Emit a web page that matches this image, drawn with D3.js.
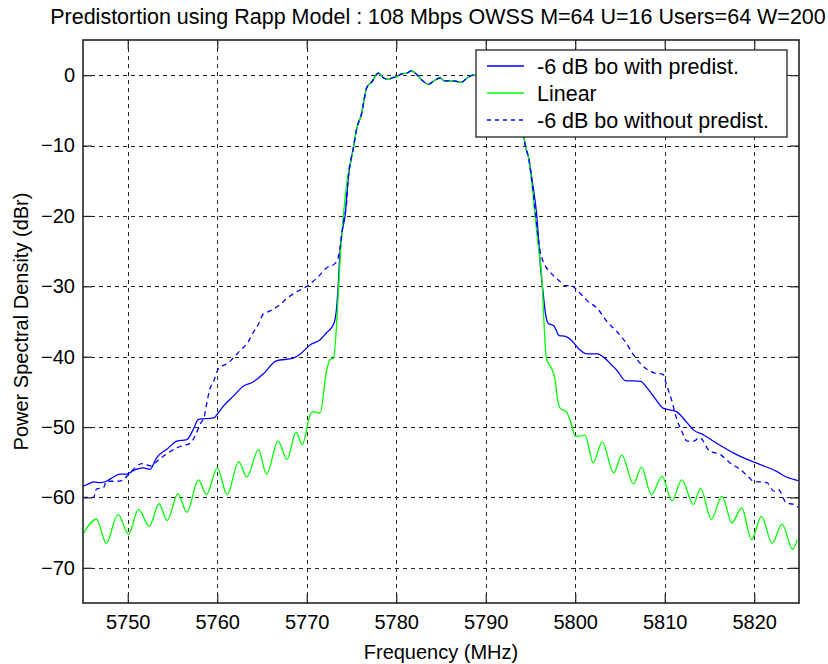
<!DOCTYPE html>
<html>
<head>
<meta charset="utf-8">
<script src="https://cdn.jsdelivr.net/npm/d3@7"></script>
<style>
  html, body { margin: 0; padding: 0; background: #fff; }
  text { font-family: Arial, "Liberation Sans", sans-serif; fill: #000; }
</style>
</head>
<body>
<svg id="chart" width="828" height="664"></svg>
<script>
// ---------------- data ----------------
const titleText = "Predistortion using Rapp Model : 108 Mbps OWSS M=64 U=16 Users=64 W=200";
const xLabel = "Frequency (MHz)";
const yLabel = "Power Spectral Density (dBr)";
const xTicks = [5750, 5760, 5770, 5780, 5790, 5800, 5810, 5820];
const yTicks = [0, -10, -20, -30, -40, -50, -60, -70];
const xDomain = [5745, 5825];
const yDomain = [-75, 5];
const seriesNames = ["-6 dB bo with predist.", "Linear", "-6 dB bo without predist."];

// shared pass band (all three curves coincide here)
const passband = [
  [5775.2,-10.4],[5775.6,-7.5],[5776.1,-5.6],[5776.7,-1.8],[5777.3,-0.9],[5778.0,0.3],
  [5778.6,-0.4],[5779.1,-0.6],[5779.5,-0.4],[5780.1,-0.2],[5780.6,0.2],[5781.2,0.3],
  [5781.7,0.6],[5782.3,0.1],[5782.8,-0.6],[5783.6,-1.3],[5784.1,-0.9],[5784.9,-0.4],
  [5785.4,-0.8],[5786.4,-0.8],[5787.3,-1.0],[5787.9,-0.4],[5788.6,0.0],[5789.5,-0.3],
  [5790.5,-0.2],[5791.5,-0.6],[5792.5,-0.4],[5793.3,-1.5],[5793.8,-4.0],[5794.1,-7.0],
  [5794.4,-9.9],[5794.8,-11.8]
];

const linearLeft = [
  [5745.0,-65.2],[5746.5,-63.1],[5747.6,-66.5],[5748.9,-62.4],[5750.1,-65.2],[5751.2,-61.7],
  [5752.4,-64.1],[5753.5,-60.9],[5754.4,-63.3],[5755.6,-59.5],[5756.6,-62.1],[5757.9,-57.5],
  [5758.8,-59.6],[5760.0,-55.8],[5761.1,-59.6],[5762.4,-54.9],[5763.3,-57.1],[5764.6,-53.2],
  [5765.5,-56.7],[5766.8,-52.0],[5767.8,-54.6],[5768.8,-50.7],[5769.5,-52.5],[5770.4,-48.2],
  [5770.7,-47.8],[5771.5,-48.0],[5772.2,-42.1],[5772.6,-40.4],[5773.0,-40.2],[5773.4,-34.0],
  [5773.7,-26.9],[5774.1,-19.8],[5774.5,-15.1]
];
const linearRight = [
  [5795.1,-14.8],[5795.5,-19.9],[5795.9,-24.6],[5796.3,-29.4],[5796.5,-35.1],[5796.8,-40.4],
  [5797.4,-41.8],[5797.8,-43.6],[5797.9,-44.9],[5798.3,-47.3],[5799.0,-47.8],[5799.6,-49.7],
  [5800.0,-51.3],[5800.5,-51.3],[5801.1,-51.1],[5802.0,-55.1],[5803.0,-52.1],[5804.3,-56.5],
  [5805.2,-54.0],[5806.5,-58.1],[5807.4,-55.7],[5808.5,-59.6],[5809.7,-57.0],[5810.8,-60.5],
  [5811.9,-57.5],[5813.2,-61.0],[5814.0,-58.7],[5815.2,-63.1],[5816.4,-59.8],[5817.5,-63.6],
  [5818.6,-61.5],[5819.7,-66.0],[5820.8,-62.7],[5822.0,-66.5],[5823.1,-63.8],[5824.3,-67.4],
  [5824.8,-66.0]
];

const predistLeft = [
  [5745.0,-58.4],[5745.4,-58.2],[5746.2,-57.8],[5746.9,-57.9],[5747.6,-57.7],[5748.4,-57.1],
  [5749.1,-56.7],[5749.9,-56.7],[5750.6,-56.2],[5751.7,-55.8],[5752.5,-56.0],[5753.2,-54.4],
  [5754.4,-53.1],[5755.5,-52.0],[5756.6,-51.8],[5757.3,-50.4],[5757.9,-48.9],[5759.6,-48.7],
  [5760.1,-48.0],[5760.7,-47.0],[5761.8,-45.6],[5762.9,-44.2],[5764.0,-43.6],[5765.1,-42.5],
  [5766.6,-40.6],[5768.5,-40.2],[5769.2,-39.7],[5770.4,-38.3],[5771.5,-37.6],[5772.2,-36.6],
  [5773.0,-35.4],[5773.3,-33.5],[5773.5,-30.2],[5773.7,-25.5],[5773.9,-22.7],[5774.3,-19.8],
  [5774.6,-15.1]
];
const predistRight = [
  [5795.2,-15.1],[5795.7,-19.9],[5796.1,-27.0],[5796.4,-30.8],[5796.7,-34.1],[5797.0,-35.3],
  [5797.6,-35.6],[5798.2,-37.0],[5798.9,-37.1],[5799.6,-37.7],[5800.4,-38.9],[5801.3,-39.6],
  [5802.5,-39.6],[5803.2,-40.1],[5804.0,-41.1],[5804.7,-42.0],[5805.6,-43.4],[5807.3,-43.5],
  [5808.0,-44.4],[5808.9,-45.9],[5809.8,-47.3],[5811.3,-47.8],[5812.5,-49.4],[5813.2,-50.4],
  [5814.3,-51.1],[5815.8,-52.3],[5817.7,-53.7],[5819.2,-54.6],[5820.6,-55.3],[5822.5,-56.3],
  [5823.6,-57.1],[5824.9,-57.6]
];

const noPredistLeft = [
  [5745.0,-60.0],[5746.2,-60.0],[5746.5,-58.8],[5747.3,-58.6],[5747.6,-57.7],[5748.8,-57.7],
  [5749.5,-57.5],[5750.1,-56.7],[5751.6,-55.2],[5752.5,-55.5],[5753.6,-54.5],[5754.7,-53.5],
  [5755.8,-52.8],[5757.0,-52.3],[5757.5,-51.3],[5758.1,-49.6],[5758.6,-48.2],[5758.8,-46.8],
  [5759.2,-44.5],[5759.6,-43.5],[5760.1,-41.8],[5761.2,-40.9],[5762.5,-39.2],[5763.5,-37.8],
  [5764.0,-36.6],[5764.6,-35.4],[5765.1,-34.0],[5765.9,-33.5],[5766.8,-32.8],[5767.8,-31.7],
  [5768.7,-30.9],[5770.0,-30.0],[5770.7,-29.3],[5771.3,-28.6],[5772.2,-27.4],[5773.2,-26.7],
  [5773.5,-26.0],[5773.7,-24.6],[5774.1,-20.8],[5774.5,-17.5],[5774.6,-15.1]
];
const noPredistRight = [
  [5795.2,-15.6],[5796.1,-25.1],[5796.7,-27.2],[5797.2,-28.0],[5798.2,-29.2],[5798.9,-29.9],
  [5799.5,-29.9],[5800.4,-30.8],[5801.3,-32.0],[5802.5,-33.2],[5803.6,-35.1],[5804.7,-36.5],
  [5805.6,-37.9],[5806.6,-39.9],[5807.7,-41.5],[5808.8,-42.3],[5809.8,-42.5],[5810.2,-44.0],
  [5810.8,-46.3],[5811.3,-48.7],[5811.9,-50.6],[5812.5,-52.0],[5813.2,-52.0],[5813.9,-51.5],
  [5815.0,-53.4],[5816.2,-53.9],[5817.3,-55.1],[5818.4,-56.0],[5819.3,-57.0],[5819.9,-57.7],
  [5821.4,-57.9],[5822.2,-59.1],[5822.7,-58.9],[5823.6,-60.8],[5824.4,-61.0],[5824.9,-61.4]
];

// ---------------- chart ----------------
const plot = { left: 83, right: 799, top: 40, bottom: 603 };
const svg = d3.select("#chart");
const x = d3.scaleLinear().domain(xDomain).range([plot.left, plot.right]);
const y = d3.scaleLinear().domain(yDomain).range([plot.bottom, plot.top]);

svg.append("rect").attr("x", plot.left).attr("y", plot.top)
  .attr("width", plot.right - plot.left).attr("height", plot.bottom - plot.top)
  .attr("fill", "#fff");

// grid
const grid = svg.append("g").attr("stroke", "#222").attr("stroke-width", 1)
  .attr("stroke-dasharray", "4,4").attr("shape-rendering", "crispEdges");
grid.selectAll(".gx").data(xTicks).join("line")
  .attr("x1", d => Math.round(x(d)) + 0.5).attr("x2", d => Math.round(x(d)) + 0.5)
  .attr("y1", plot.top).attr("y2", plot.bottom);
grid.selectAll(".gy").data(yTicks).join("line")
  .attr("y1", d => Math.round(y(d)) + 0.5).attr("y2", d => Math.round(y(d)) + 0.5)
  .attr("x1", plot.left).attr("x2", plot.right);

// curves
svg.append("clipPath").attr("id", "clip").append("rect")
  .attr("x", plot.left).attr("y", plot.top)
  .attr("width", plot.right - plot.left).attr("height", plot.bottom - plot.top);
const line = d3.line().curve(d3.curveMonotoneX).x(d => x(d[0])).y(d => y(d[1]));
const series = [
  { name: seriesNames[0], data: predistLeft.concat(passband, predistRight), color: "#0000ff", dash: null },
  { name: seriesNames[1], data: linearLeft.concat(passband, linearRight), color: "#00ff00", dash: null },
  { name: seriesNames[2], data: noPredistLeft.concat(passband, noPredistRight), color: "#0000ff", dash: "5,4" }
];
const curves = svg.append("g").attr("clip-path", "url(#clip)");
series.forEach(s => {
  curves.append("path").datum(s.data)
    .attr("fill", "none").attr("stroke", s.color).attr("stroke-width", 1.3)
    .attr("stroke-dasharray", s.dash).attr("d", line);
});

// axes (ticks inward, on all four sides)
const fmt = d3.format("d");
const axB = svg.append("g").attr("transform", `translate(0,${plot.bottom})`)
  .call(d3.axisBottom(x).tickValues(xTicks).tickFormat(fmt).tickSize(-9).tickPadding(12).tickSizeOuter(0));
const axL = svg.append("g").attr("transform", `translate(${plot.left},0)`)
  .call(d3.axisLeft(y).tickValues(yTicks).tickFormat(fmt).tickSize(-9).tickPadding(8).tickSizeOuter(0));
const axT = svg.append("g").attr("transform", `translate(0,${plot.top})`)
  .call(d3.axisTop(x).tickValues(xTicks).tickSize(-9).tickFormat("").tickSizeOuter(0));
const axR = svg.append("g").attr("transform", `translate(${plot.right},0)`)
  .call(d3.axisRight(y).tickValues(yTicks).tickSize(-9).tickFormat("").tickSizeOuter(0));
[axB, axL, axT, axR].forEach(g => {
  g.select(".domain").remove();
  g.selectAll(".tick line").attr("stroke", "#222").attr("stroke-width", 1.2);
  g.selectAll(".tick text").attr("font-size", 20).attr("font-family", "Arial, 'Liberation Sans', sans-serif").attr("fill", "#000");
});

// frame
svg.append("rect").attr("x", plot.left).attr("y", plot.top)
  .attr("width", plot.right - plot.left).attr("height", plot.bottom - plot.top)
  .attr("fill", "none").attr("stroke", "#222").attr("stroke-width", 1.6);

// legend
const lg = { x: 476, y: 50, w: 311, h: 87 };
const legend = svg.append("g");
legend.append("rect").attr("x", lg.x).attr("y", lg.y).attr("width", lg.w).attr("height", lg.h)
  .attr("fill", "#fff").attr("stroke", "#222").attr("stroke-width", 1.3);
series.forEach((s, i) => {
  const yy = 66 + i * 27;
  legend.append("line").attr("x1", 487).attr("x2", 524).attr("y1", yy).attr("y2", yy)
    .attr("stroke", s.color).attr("stroke-width", 1.3).attr("stroke-dasharray", s.dash ? "4,4" : null);
  legend.append("text").attr("x", 537).attr("y", yy + 7.5).attr("font-size", 21.5).text(s.name);
});

// title and labels
svg.append("text").attr("x", (plot.left + plot.right) / 2 - 3).attr("y", 23.5)
  .attr("text-anchor", "middle").attr("font-size", 21.5).text(titleText);
svg.append("text").attr("x", (plot.left + plot.right) / 2).attr("y", 659)
  .attr("text-anchor", "middle").attr("font-size", 20).text(xLabel);
svg.append("text").attr("transform", `translate(28,${(plot.top + plot.bottom) / 2}) rotate(-90)`)
  .attr("text-anchor", "middle").attr("font-size", 20).text(yLabel);
</script>
</body>
</html>
